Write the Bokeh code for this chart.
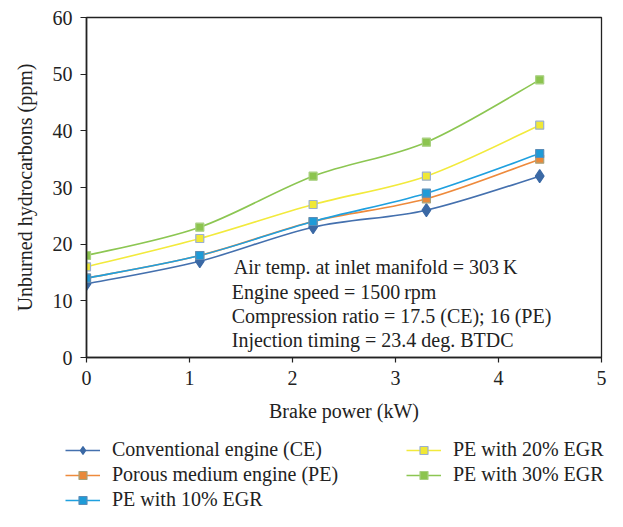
from bokeh.plotting import figure
from bokeh.layouts import column
from bokeh.models import Legend, LegendItem, Label, Range1d, FixedTicker, ColumnDataSource
from bokeh.embed import file_html
from bokeh.resources import INLINE

# ---- data ----
power = [0, 1.1, 2.2, 3.3, 4.4]
ce = [13, 17, 23, 26, 32]
pe = [14, 18, 24, 28, 35]
pe10 = [14, 18, 24, 29, 36]
pe20 = [16, 21, 27, 32, 41]
pe30 = [18, 23, 32, 38, 49]
series_names = ["Conventional engine (CE)", "Porous medium engine (PE)",
                "PE with 10% EGR", "PE with 20% EGR", "PE with 30% EGR"]
x_ticks = [0, 1, 2, 3, 4, 5]
y_ticks = [0, 10, 20, 30, 40, 50, 60]
notes = ["Air temp. at inlet manifold = 303\u2009K",
         "Engine speed = 1500\u2009rpm",
         "Compression ratio = 17.5 (CE); 16 (PE)",
         "Injection timing = 23.4 deg. BTDC"]

FONT = "Liberation Serif"
line_colors = ["#4470AE", "#EE8A3C", "#1FA0DF", "#F2EA3C", "#8CC652"]
fill_colors = ["#3B69A5", "#E8893A", "#1E9BD7", "#F0E836", "#8CC44F"]
edge_colors = ["#3B69A5", "#A8A27A", "#5A8DB8", "#9CB0D0", "#A8D080"]
markers = ["diamond", "square", "square", "square", "square"]
msizes = [13, 8, 8, 8, 8]

W = 607
H_MAIN = 432
H_LEG = 79

p = figure(width=W, height=H_MAIN, output_backend="svg", toolbar_location=None,
           x_range=Range1d(0, 5), y_range=Range1d(0, 60),
           min_border_left=86, min_border_right=6, min_border_top=17,
           min_border_bottom=75)
p.grid.visible = False
p.outline_line_color = "#222222"
p.outline_line_width = 1.3
p.background_fill_color = "white"

for ax in (p.xaxis[0], p.yaxis[0]):
    ax.axis_line_color = "#222222"
    ax.axis_line_width = 1.6
    ax.major_tick_line_color = "#222222"
    ax.major_tick_line_width = 1.2
    ax.major_tick_in = 0
    ax.minor_tick_line_color = None
    ax.major_label_text_font = FONT
    ax.major_label_text_font_size = "20px"
    ax.major_label_text_color = "#222222"
    ax.axis_label_text_font = FONT
    ax.axis_label_text_font_size = "20px"
    ax.axis_label_text_font_style = "normal"
    ax.axis_label_text_color = "#222222"

p.xaxis.ticker = FixedTicker(ticks=x_ticks)
p.yaxis.ticker = FixedTicker(ticks=y_ticks)
p.xaxis.major_tick_out = 5
p.yaxis.major_tick_out = 6
p.xaxis.major_label_standoff = 8
p.yaxis.major_label_standoff = 8
p.xaxis.axis_label = "Brake power (kW)"
p.yaxis.axis_label = "Unburned hydrocarbons (ppm)"
p.xaxis.axis_label_standoff = 12
p.yaxis.axis_label_standoff = 14


def smooth_segments(xs, ys):
    """Bezier segments (Excel-style smoothed line) through the data points."""
    n = len(xs)
    d = dict(x0=[], y0=[], x1=[], y1=[], cx0=[], cy0=[], cx1=[], cy1=[])
    for i in range(n - 1):
        xm, ym = (xs[i - 1], ys[i - 1]) if i > 0 else (xs[i], ys[i])
        xp, yp = (xs[i + 2], ys[i + 2]) if i + 2 < n else (xs[i + 1], ys[i + 1])
        d["x0"].append(xs[i]); d["y0"].append(ys[i])
        d["x1"].append(xs[i + 1]); d["y1"].append(ys[i + 1])
        d["cx0"].append(xs[i] + (xs[i + 1] - xm) / 6)
        d["cy0"].append(ys[i] + (ys[i + 1] - ym) / 6)
        d["cx1"].append(xs[i + 1] - (xp - xs[i]) / 6)
        d["cy1"].append(ys[i + 1] - (yp - ys[i]) / 6)
    return ColumnDataSource(d)


all_series = [ce, pe, pe10, pe20, pe30]
for k, ys in enumerate(all_series):
    src = smooth_segments(power, ys)
    p.bezier(x0="x0", y0="y0", x1="x1", y1="y1", cx0="cx0", cy0="cy0",
             cx1="cx1", cy1="cy1", source=src,
             line_color=line_colors[k], line_width=1.6)

for k, ys in enumerate(all_series):
    p.scatter(power, ys, marker=markers[k], size=msizes[k],
              fill_color=fill_colors[k], line_color=edge_colors[k],
              line_width=1.2)

note_x = [1.43, 1.41, 1.41, 1.41]
note_y = [15.9, 11.6, 7.3, 3.1]
for t, xx, yy in zip(notes, note_x, note_y):
    p.add_layout(Label(x=xx, y=yy, text=t, text_font=FONT, text_font_size="20px",
                       text_baseline="middle", text_color="#222222"))

# ---- legend strip (second figure; its data lie outside its view, only the key shows) ----
q = figure(width=W, height=H_LEG, output_backend="svg", toolbar_location=None,
           x_range=Range1d(100, 101), y_range=Range1d(100, 101),
           x_axis_type=None, y_axis_type=None,
           min_border=0, min_border_left=0, min_border_right=0,
           min_border_top=0, min_border_bottom=0)
q.frame_align = False
q.grid.visible = False
q.outline_line_color = None

items = []
for k, ys in enumerate(all_series):
    lr = q.line(power, ys, line_color=line_colors[k], line_width=1.6)
    sr = q.scatter(power, ys, marker=markers[k], size=msizes[k],
                   fill_color=fill_colors[k], line_color=edge_colors[k],
                   line_width=1.2)
    items.append(LegendItem(label=series_names[k], renderers=[lr, sr]))


def make_legend(its, loc):
    return Legend(items=its, location=loc, orientation="vertical",
                  border_line_color=None, background_fill_alpha=0,
                  padding=0, margin=0, spacing=2,
                  glyph_width=35, glyph_height=20, label_height=20,
                  label_standoff=12,
                  label_text_font=FONT, label_text_font_size="20px",
                  label_text_color="#222222")


q.add_layout(make_legend(items[:3], (65, 0)))
q.add_layout(make_legend(items[3:], (406, 25)))

layout = column(p, q, spacing=0)
open("out.html", "w").write(file_html(layout, INLINE))
